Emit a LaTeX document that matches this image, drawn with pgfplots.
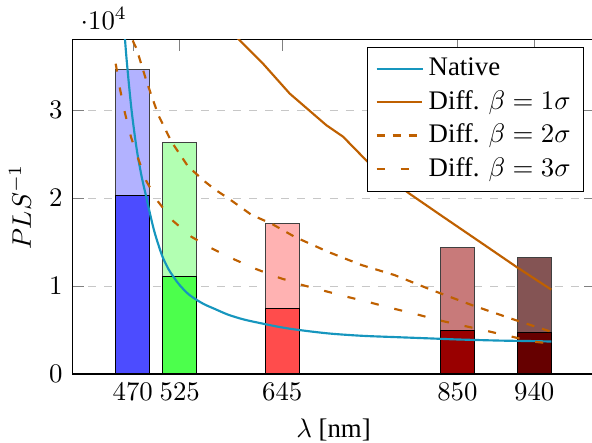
\documentclass[border=0pt]{standalone}
\usepackage{fontspec}
\setmainfont{Liberation Serif}
\usepackage{pgfplots}
\pgfplotsset{compat=1.18}
\definecolor{native}{RGB}{22,150,190}
\definecolor{diff}{RGB}{191,96,0}
\definecolor{lA}{RGB}{200,122,122}
\definecolor{dA}{RGB}{153,0,0}
\definecolor{lB}{RGB}{132,84,84}
\definecolor{dB}{RGB}{102,0,0}
\begin{document}
\begin{tikzpicture}
\begin{axis}[name=ax,
  scale only axis, width=195pt, height=124.6pt,
  xmin=399, xmax=1011, ymin=0, ymax=38000,
  xtick={470,525,645,850,940},
  ytick={0,10000,20000,30000},
  ymajorgrids, grid style={dashed, black!22},
  xlabel={$\lambda$ [nm]}, ylabel={$PLS^{-1}$},
  legend cell align=left,
  legend style={fill=white, draw=black},
]
% light bars
\addplot[ybar, bar width=40, bar shift=0pt, fill=blue!30, draw=black!75, forget plot] coordinates {(470,34600)};
\addplot[ybar, bar width=40, bar shift=0pt, fill=green!30, draw=black!75, forget plot] coordinates {(525,26300)};
\addplot[ybar, bar width=40, bar shift=0pt, fill=red!30, draw=black!75, forget plot] coordinates {(645,17100)};
\addplot[ybar, bar width=40, bar shift=0pt, fill=lA, draw=black!75, forget plot] coordinates {(850,14400)};
\addplot[ybar, bar width=40, bar shift=0pt, fill=lB, draw=black!75, forget plot] coordinates {(940,13260)};
% dark bars
\addplot[ybar, bar width=40, bar shift=0pt, fill=blue!70, draw=black, forget plot] coordinates {(470,20300)};
\addplot[ybar, bar width=40, bar shift=0pt, fill=green!70, draw=black, forget plot] coordinates {(525,11100)};
\addplot[ybar, bar width=40, bar shift=0pt, fill=red!70, draw=black, forget plot] coordinates {(645,7460)};
\addplot[ybar, bar width=40, bar shift=0pt, fill=dA, draw=black, forget plot] coordinates {(850,5000)};
\addplot[ybar, bar width=40, bar shift=0pt, fill=dB, draw=black, forget plot] coordinates {(940,4740)};
% curves
\addplot[native, thick, smooth, no markers] coordinates {
(450,56000) (455,46500) (460.8,38200) (463.9,34600) (468.6,30000) (474.4,25700)
(480.3,22500) (486.1,20000) (490,18300) (495,16300) (500,14700) (505,13300)
(511.4,12000) (517.3,11100) (525,10100) (535,9100) (545.3,8400) (554.3,7900)
(566,7400) (581.6,6750) (600,6200) (620.6,5760) (640,5380) (659.6,5070)
(698.5,4620) (737.6,4350) (776.5,4200) (817.5,4050) (850,3930) (900,3800)
(940,3740) (960,3690)};
\addlegendentry{Native}
\addplot[diff, thick, no markers] coordinates {
(575,39900) (595.3,37950) (622.5,35300) (653.7,31900) (696.6,28300) (716.1,27000)
(747.3,23900) (794.1,20500) (833,17900) (879.8,14800) (918.9,12200) (959.8,9600)};
\addlegendentry{Diff. $\beta=1\sigma$}
\addplot[diff, thick, dashed, no markers] coordinates {
(450,45000) (460,41200) (470.5,37800) (474.4,37000) (486.1,33300) (499.7,29500)
(515.4,26400) (534.8,23600) (554.3,21900) (566,21000) (581.6,20000) (609,18100)
(632.4,17100) (659.6,15600) (698.5,13900) (737.6,12400) (776.5,11250) (820,9550)
(868,7800) (919,6100) (960,4800)};
\addlegendentry{Diff. $\beta=2\sigma$}
\addplot[diff, thick, loosely dashed, no markers] coordinates {
(450,35300) (454.9,32500) (460.8,29700) (467.8,27000) (476.3,24500) (486.1,21900)
(499.7,19600) (517.3,17400) (538.8,15600) (562.2,14300) (587.4,13100) (612.8,12000)
(638.2,11050) (665.4,10200) (692.7,9500) (720.1,8800) (747.3,8150) (772.7,7500)
(800,6850) (829,6100) (880,5000) (938,3700) (960,3450)};
\addlegendentry{Diff. $\beta=3\sigma$}
\end{axis}
\pgfresetboundingbox
\path[use as bounding box] ([xshift=-26.9pt,yshift=-25.7pt]ax.south west) rectangle ([xshift=-1.1pt,yshift=14.9pt]ax.north east);
\end{tikzpicture}
\end{document}
